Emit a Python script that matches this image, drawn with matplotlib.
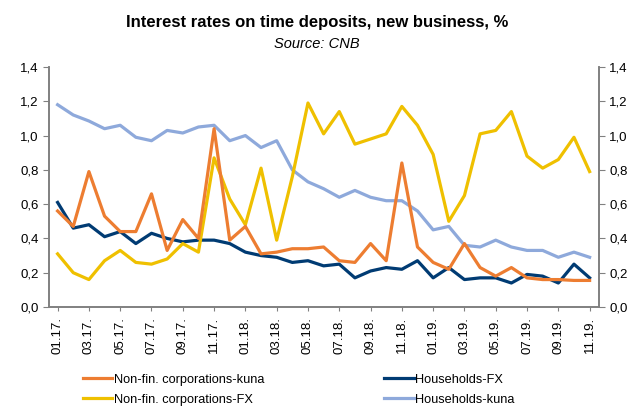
import matplotlib
matplotlib.use("Agg")
import matplotlib.pyplot as plt
from matplotlib import font_manager
from matplotlib.ticker import FuncFormatter

# monthly, 01.17 .. 11.19
months = [f"{m:02d}.{y}." for y in (17, 18, 19) for m in range(1, 13)][:35]

nfc_kuna = [0.56, 0.47, 0.79, 0.53, 0.44, 0.44, 0.66, 0.33, 0.51, 0.40, 1.04, 0.39,
            0.47, 0.31, 0.32, 0.34, 0.34, 0.35, 0.27, 0.26, 0.37, 0.27, 0.84, 0.35,
            0.26, 0.22, 0.37, 0.23, 0.18, 0.23, 0.17, 0.16, 0.16, 0.155, 0.155]
hh_fx = [0.61, 0.46, 0.48, 0.41, 0.44, 0.37, 0.43, 0.40, 0.38, 0.39, 0.39, 0.37,
         0.32, 0.30, 0.29, 0.26, 0.27, 0.24, 0.25, 0.17, 0.21, 0.23, 0.22, 0.27,
         0.17, 0.23, 0.16, 0.17, 0.17, 0.14, 0.19, 0.18, 0.14, 0.25, 0.17]
nfc_fx = [0.31, 0.20, 0.16, 0.27, 0.33, 0.26, 0.25, 0.28, 0.37, 0.32, 0.87, 0.63,
          0.48, 0.81, 0.39, 0.76, 1.19, 1.01, 1.14, 0.95, 0.98, 1.01, 1.17, 1.06,
          0.89, 0.50, 0.65, 1.01, 1.03, 1.14, 0.88, 0.81, 0.86, 0.99, 0.79]
hh_kuna = [1.18, 1.12, 1.085, 1.04, 1.06, 0.99, 0.97, 1.03, 1.015, 1.05, 1.06, 0.97,
           1.00, 0.93, 0.97, 0.80, 0.73, 0.69, 0.64, 0.68, 0.64, 0.62, 0.62, 0.56,
           0.45, 0.47, 0.36, 0.35, 0.39, 0.35, 0.33, 0.33, 0.29, 0.32, 0.29]

names = [f.name for f in font_manager.fontManager.ttflist]
narrow = "Liberation Sans Narrow" if "Liberation Sans Narrow" in names else "Liberation Sans"
plt.rcParams["font.family"] = [narrow, "DejaVu Sans"]
regular = ["Liberation Sans", "DejaVu Sans"]

fig = plt.figure(figsize=(6.34, 4.07), dpi=100)
ax = fig.add_axes([0.0773, 0.2457, 0.8675, 0.5897])

x = list(range(len(months)))
lw = 2.3
l_hk, = ax.plot(x, hh_kuna, color="#8EA9DB", lw=lw, label="Households-kuna")
l_hf, = ax.plot(x, hh_fx, color="#003B73", lw=lw, label="Households-FX")
l_nf, = ax.plot(x, nfc_fx, color="#EFC000", lw=lw, label="Non-fin. corporations-FX")
l_nk, = ax.plot(x, nfc_kuna, color="#ED7D31", lw=lw, label="Non-fin. corporations-kuna")

ax.set_xlim(-0.55, 34.6)
ax.set_ylim(0, 1.4)
yt = [0, 0.2, 0.4, 0.6, 0.8, 1.0, 1.2, 1.4]
fmt = FuncFormatter(lambda v, p: f"{v:.1f}".replace(".", ","))
ax.set_yticks(yt)
ax.yaxis.set_major_formatter(fmt)
ax.set_xticks(x[::2])
ax.set_xticklabels(months[::2], rotation=90, fontsize=9.5, family=regular)
ax.tick_params(axis="y", labelsize=9.5, direction="out", length=4, color="#808080")
ax.tick_params(axis="x", direction="out", length=3, color="#808080", pad=4)
for t in ax.get_yticklabels():
    t.set_family(regular)

ax2 = ax.twinx()
ax2.set_ylim(0, 1.4)
ax2.set_yticks(yt)
ax2.yaxis.set_major_formatter(fmt)
ax2.tick_params(axis="y", labelsize=9.5, direction="out", length=4, color="#808080")
for t in ax2.get_yticklabels():
    t.set_family(regular)

for a in (ax, ax2):
    a.spines["top"].set_visible(False)
    for s in ("left", "right", "bottom"):
        a.spines[s].set_color("#808080")
        a.spines[s].set_linewidth(1.2)

fig.text(0.5, 1 - 23 / 407, "Interest rates on time deposits, new business, %",
         ha="center", va="center", fontsize=12, fontweight="bold")
fig.text(0.5, 1 - 44 / 407, "Source: CNB", ha="center", va="center",
         fontsize=10.5, style="italic")

fig.legend(handles=[l_nk, l_nf, l_hf, l_hk], ncol=2, loc="upper left",
           bbox_to_anchor=(0.123, 0.094), frameon=False, fontsize=9.2,
           handlelength=2.3, handletextpad=0.1, columnspacing=9.4,
           labelspacing=0.6, borderaxespad=0)

fig.savefig("out.png", dpi=100)
